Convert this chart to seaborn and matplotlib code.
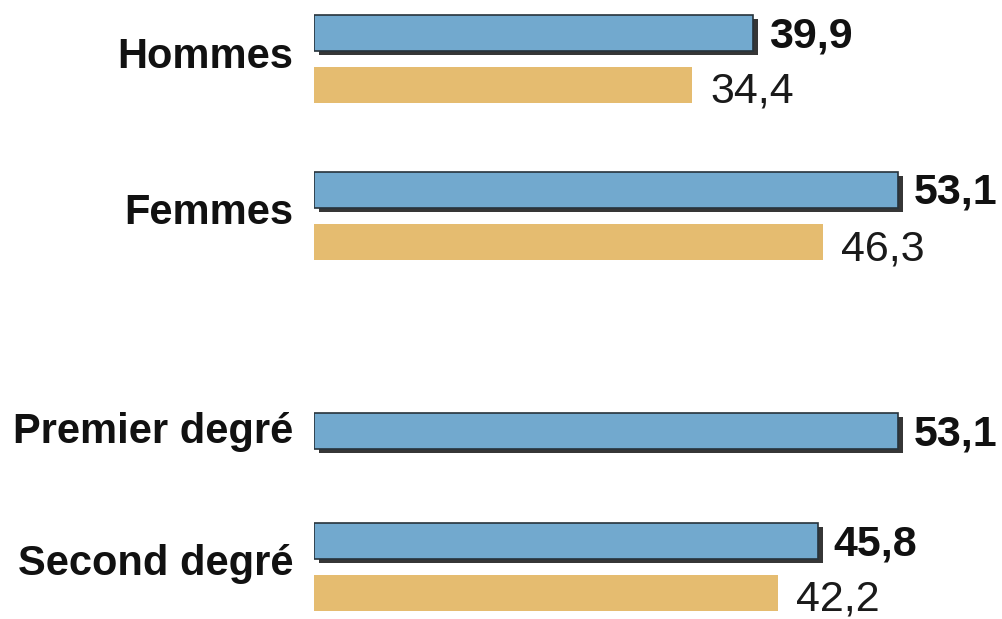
import matplotlib
matplotlib.use("Agg")
import matplotlib.pyplot as plt
import matplotlib.patheffects as pe
import seaborn as sns
import pandas as pd

# ---- data ----
categories = ["Hommes", "Femmes", "Premier degré", "Second degré"]
series_names = ["Série A", "Série B"]
values_a = [39.9, 53.1, 53.1, 45.8]
values_b = [34.4, 46.3, None, 42.2]
labels_a = ["39,9", "53,1", "53,1", "45,8"]
labels_b = ["34,4", "46,3", "", "42,2"]

# ---- layout (row positions, in figure pixel units from the top) ----
group_top = [33, 190, 431, 541]
pair_gap = 52

rows = []
for i, cat in enumerate(categories):
    rows.append(dict(cat=cat, series=series_names[0], value=values_a[i],
                     pos=group_top[i], label=labels_a[i]))
    if values_b[i] is not None:
        rows.append(dict(cat=cat, series=series_names[1], value=values_b[i],
                         pos=group_top[i] + pair_gap, label=labels_b[i]))
df = pd.DataFrame(rows)

sns.set_theme(style="white")
plt.rcParams["font.family"] = ["Liberation Sans", "DejaVu Sans"]

W, H = 1003, 619
fig = plt.figure(figsize=(W / 100, H / 100), dpi=100)
x0 = 314
scale = 11.0
ax = fig.add_axes([x0 / W, 0, 1 - x0 / W, 1])

blue = "#72a9ce"
orange = "#e5bc70"
sns.barplot(data=df, x="value", y="pos", hue="series", orient="y",
            native_scale=True, dodge=False, width=36 / pair_gap,
            palette=[blue, orange], saturation=1, legend=False, ax=ax)

ax.set_xlim(0, (W - x0) / scale)
ax.set_ylim(H, 0)

n_a = len(values_a)
for k, patch in enumerate(ax.patches):
    if k < n_a:
        patch.set_edgecolor("#27333b")
        patch.set_linewidth(1.2)
        patch.set_path_effects([pe.SimplePatchShadow(offset=(3.5, -2.8), shadow_rgbFace="#363636", alpha=1.0),
                                pe.Normal()])
    else:
        patch.set_edgecolor("none")
        patch.set_linewidth(0)

for _, r in df.iterrows():
    if r["series"] == series_names[0]:
        ax.text(r["value"] + 1.45, r["pos"] + 14, r["label"], va="baseline", ha="left",
                fontsize=31, fontweight="bold", color="#111111", clip_on=False)
    else:
        ax.text(r["value"] + 1.65, r["pos"] + 18, r["label"], va="baseline", ha="left",
                fontsize=31, fontweight="normal", color="#1a1a1a", clip_on=False)

centers = []
for i, cat in enumerate(categories):
    if values_b[i] is not None:
        centers.append(group_top[i] + pair_gap / 2 - 7)
    else:
        centers.append(group_top[i] - 4)
ax.set_yticks(centers)
ax.set_yticklabels(categories, fontsize=30, fontweight="bold", color="#111111")
ax.tick_params(axis="y", length=0, pad=15)
ax.set_xticks([])
ax.set_xlabel("")
ax.set_ylabel("")
sns.despine(ax=ax, left=True, bottom=True)

fig.savefig("out.png", dpi=100)
